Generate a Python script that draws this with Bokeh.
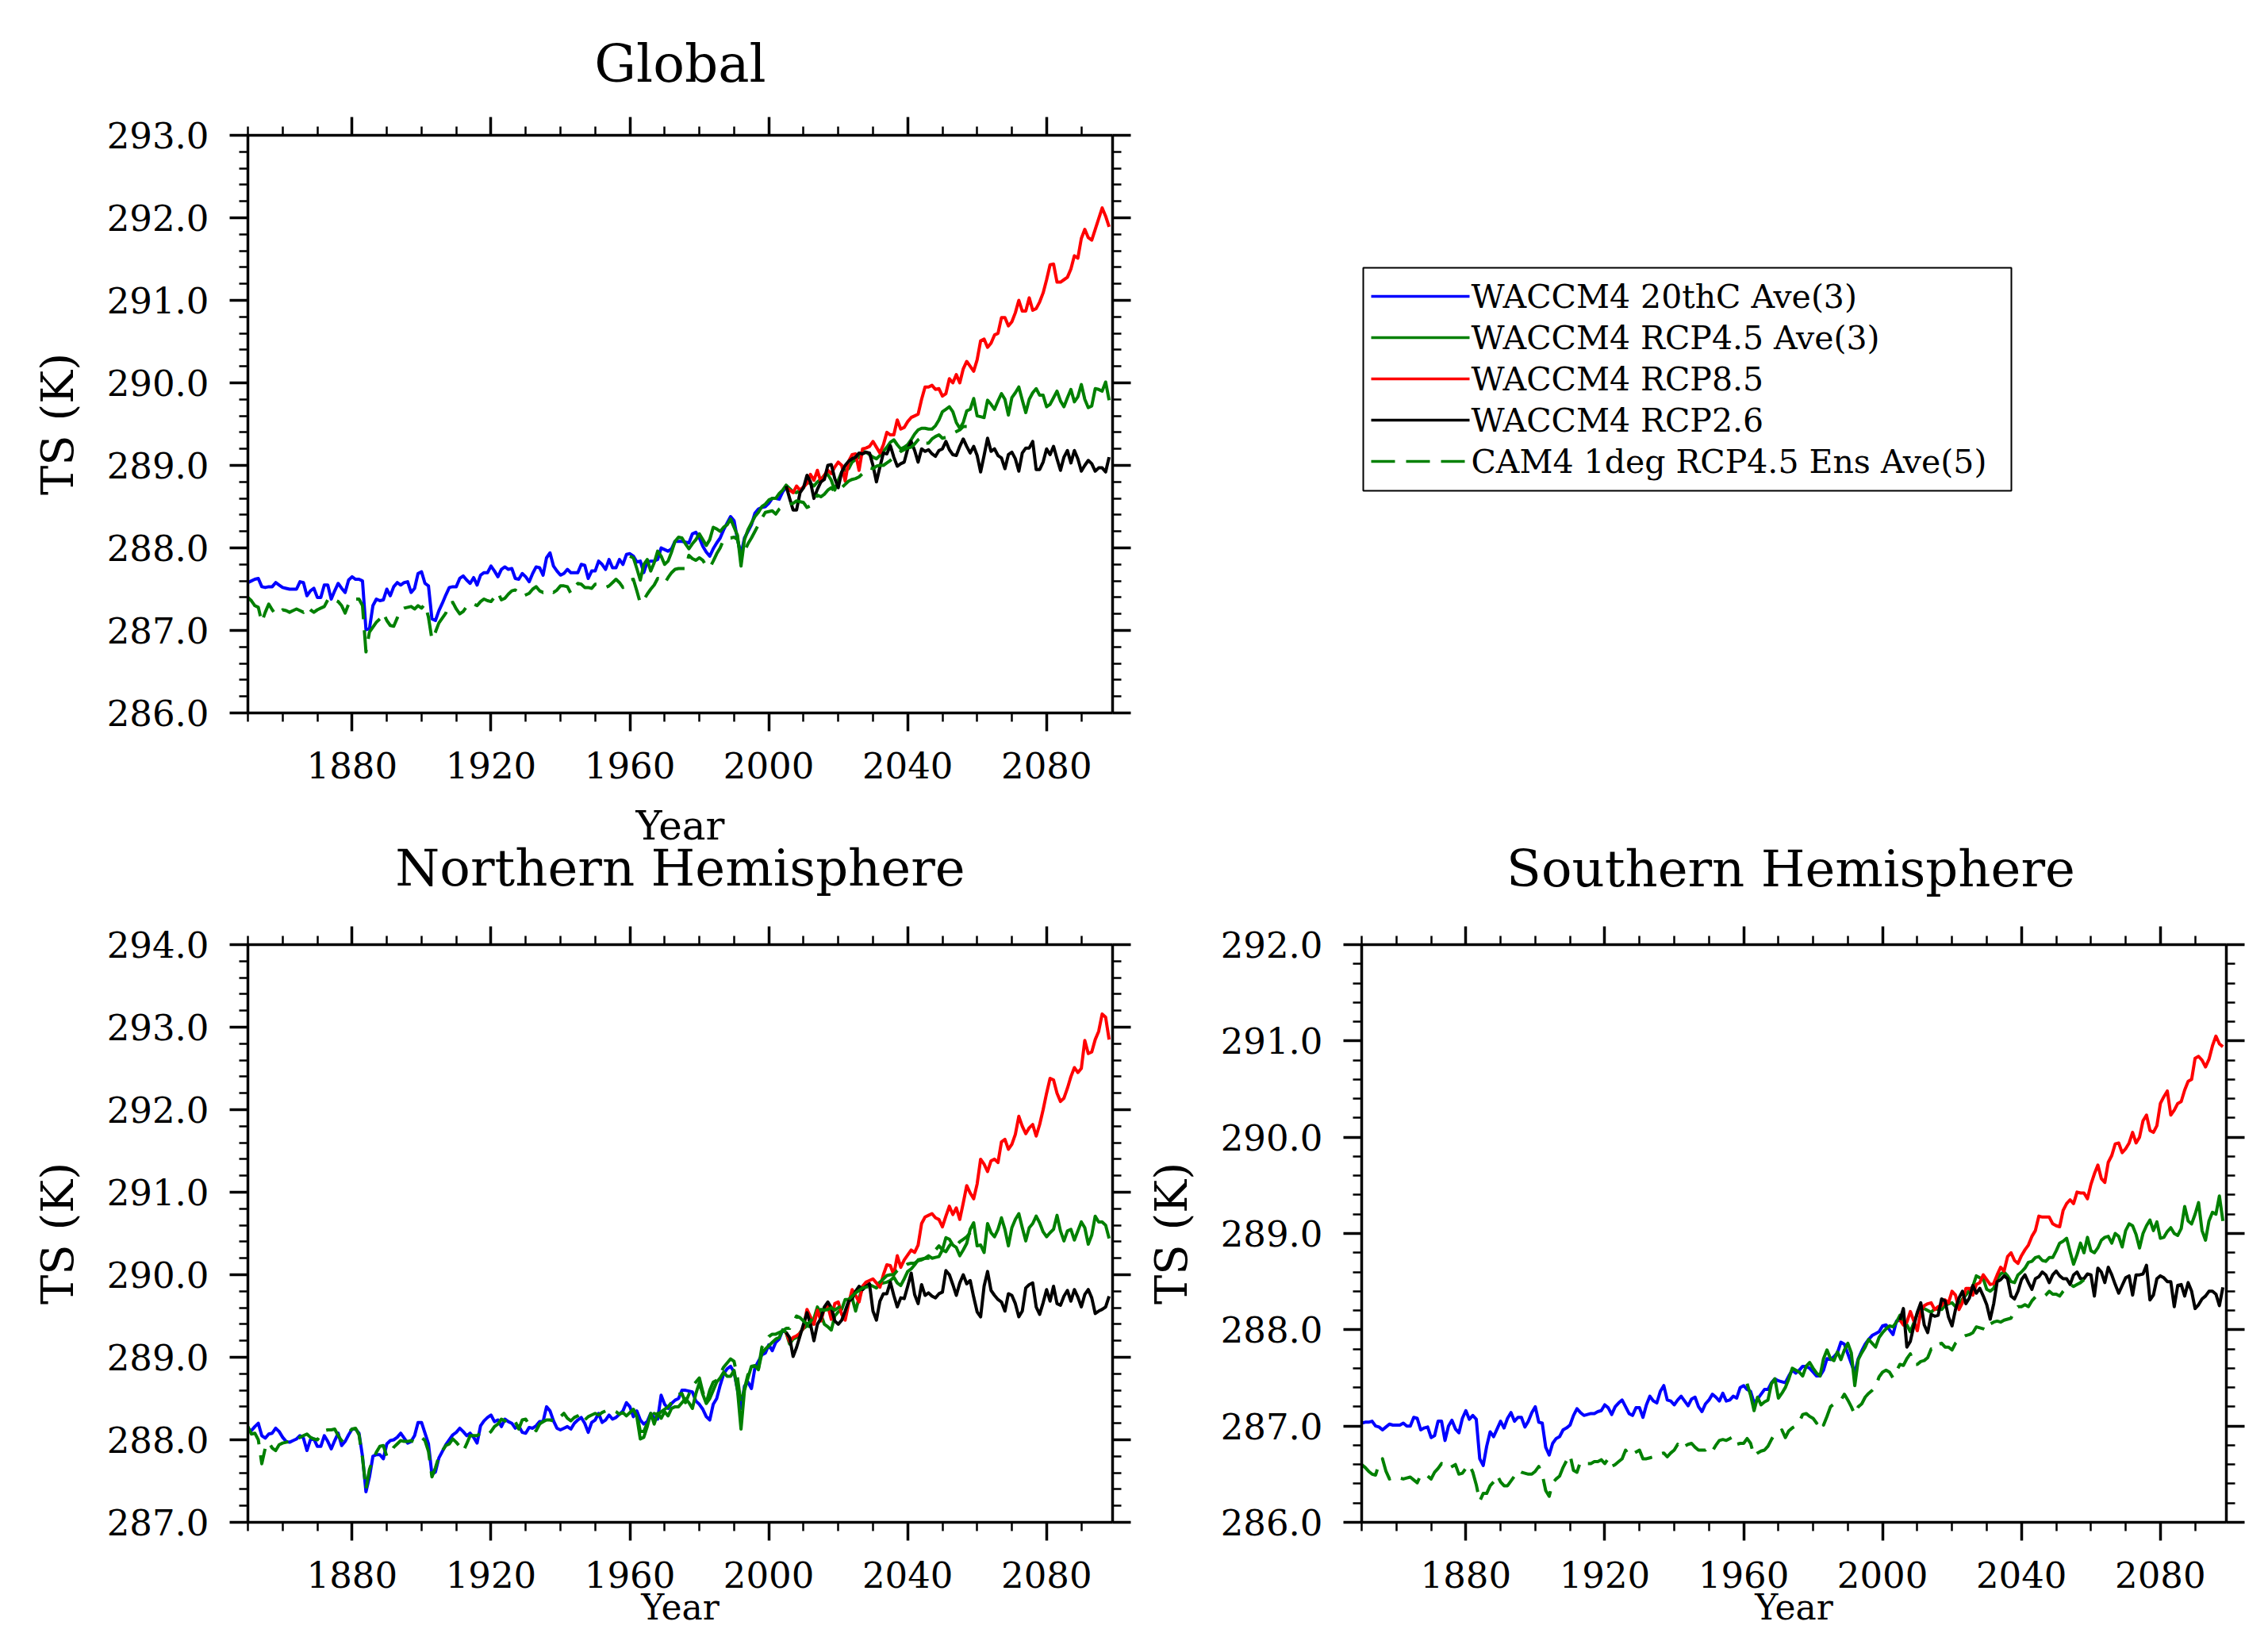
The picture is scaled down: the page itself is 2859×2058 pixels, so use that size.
from bokeh.plotting import figure
from bokeh.layouts import column, row
from bokeh.models import (Range1d, LinearAxis, SingleIntervalTicker,
                          NumeralTickFormatter, Title)
from bokeh.core.properties import value
from bokeh.embed import file_html
from bokeh.resources import INLINE

FONT = "DejaVu Serif"
BLUE, GREEN, RED, BLACK = "#0000ff", "#008000", "#ff0000", "#000000"
X_START, X_END = 1850, 2099
TITLES = ["Global", "Northern Hemisphere", "Southern Hemisphere"]
LEGEND_LABELS = ["WACCM4 20thC Ave(3)", "WACCM4 RCP4.5 Ave(3)", "WACCM4 RCP8.5",
                 "WACCM4 RCP2.6", "CAM4 1deg RCP4.5 Ens Ave(5)"]
LEGEND_COLORS = [BLUE, GREEN, RED, BLACK, GREEN]
LEGEND_DASHES = ["solid", "solid", "solid", "solid", "30 14"]

# start years of each series
START_20C, START_RCP45_G, START_RCP45_HEM, START_SCEN, START_CAM = 1850, 1960, 1961, 2005, 1850

# ---------------- Global ----------------
glob_20c = [287.58, 287.60, 287.62, 287.63, 287.53, 287.52, 287.53, 287.53, 287.58, 287.55,
            287.52, 287.51, 287.50, 287.50, 287.50, 287.59, 287.58, 287.42, 287.48, 287.51,
            287.40, 287.40, 287.55, 287.55, 287.38, 287.48, 287.57, 287.51, 287.46, 287.61,
            287.65, 287.62, 287.62, 287.60, 287.01, 287.02, 287.30, 287.38, 287.36, 287.37,
            287.50, 287.42, 287.53, 287.58, 287.55, 287.58, 287.59, 287.46, 287.51, 287.69,
            287.71, 287.57, 287.54, 287.14, 287.12, 287.24, 287.33, 287.43, 287.52, 287.53,
            287.53, 287.63, 287.66, 287.61, 287.57, 287.64, 287.55, 287.67, 287.70, 287.70,
            287.78, 287.72, 287.65, 287.74, 287.77, 287.74, 287.75, 287.63, 287.62, 287.69,
            287.65, 287.59, 287.69, 287.77, 287.76, 287.67, 287.88, 287.94, 287.78, 287.72,
            287.67, 287.69, 287.74, 287.70, 287.70, 287.70, 287.80, 287.79, 287.63, 287.72,
            287.72, 287.84, 287.80, 287.74, 287.86, 287.76, 287.76, 287.86, 287.80, 287.92,
            287.93, 287.90, 287.83, 287.84, 287.70, 287.83, 287.84, 287.84, 287.86, 288.00,
            287.98, 287.96, 287.99, 288.08, 288.08, 288.08, 288.07, 288.06, 288.17, 288.19,
            288.12, 288.02, 287.95, 287.90, 287.99, 288.06, 288.12, 288.22, 288.30, 288.38,
            288.33, 288.10, 287.92, 288.12, 288.20, 288.28, 288.42, 288.47, 288.49, 288.50,
            288.54, 288.60, 288.60, 288.59, 288.68, 288.73]
glob_rcp45 = [287.90, 287.88, 287.75, 287.61, 287.80, 287.86, 287.72, 287.82, 287.96, 287.90,
              287.80, 287.84, 287.95, 288.08, 288.13, 288.12, 288.05, 287.99, 288.05, 288.10,
              288.17, 288.10, 288.03, 288.10, 288.25, 288.23, 288.20, 288.25, 288.28, 288.35,
              288.25, 288.15, 287.78, 288.10, 288.22, 288.30, 288.38, 288.43, 288.50, 288.53,
              288.58, 288.60, 288.60, 288.66, 288.70, 288.76, 288.72, 288.68, 288.67, 288.70,
              288.73, 288.80, 288.78, 288.75, 288.80, 288.83, 288.88, 288.89, 288.82, 288.70,
              288.82, 288.92, 288.94, 288.96, 289.04, 289.07, 289.10, 289.17, 289.16, 289.13,
              289.10, 289.08, 289.12, 289.17, 289.22, 289.28, 289.31, 289.25, 289.20, 289.22,
              289.25, 289.31, 289.38, 289.43, 289.45, 289.45, 289.44, 289.44, 289.48, 289.55,
              289.65, 289.68, 289.71, 289.65, 289.52, 289.45, 289.52, 289.66, 289.68, 289.81,
              289.60, 289.59, 289.58, 289.79, 289.74, 289.68, 289.78, 289.87, 289.80, 289.61,
              289.82, 289.88, 289.95, 289.79, 289.64, 289.80, 289.88, 289.93, 289.85, 289.85,
              289.71, 289.74, 289.82, 289.90, 289.78, 289.71, 289.82, 289.92, 289.77, 289.83,
              289.98, 289.80, 289.70, 289.72, 289.93, 289.92, 289.90, 290.01, 289.79]
glob_rcp85 = [288.73, 288.70, 288.67, 288.75, 288.70, 288.74, 288.78, 288.89, 288.82, 288.94,
              288.80, 288.88, 288.94, 288.90, 288.98, 289.04, 289.00, 288.81, 289.05, 289.13,
              289.14, 288.94, 289.20, 289.21, 289.23, 289.29, 289.22, 289.15, 289.25, 289.40,
              289.37, 289.37, 289.55, 289.44, 289.46, 289.53, 289.58, 289.60, 289.62, 289.80,
              289.95, 289.95, 289.97, 289.92, 289.93, 289.84, 289.87, 290.05, 290.00, 290.10,
              290.00, 290.17, 290.26, 290.20, 290.14, 290.28, 290.51, 290.53, 290.43, 290.48,
              290.58, 290.60, 290.79, 290.79, 290.69, 290.74, 290.85, 291.00, 290.87, 290.87,
              291.03, 290.88, 290.90, 290.98, 291.09, 291.25, 291.43, 291.44, 291.22, 291.22,
              291.25, 291.28, 291.38, 291.54, 291.51, 291.75, 291.86, 291.76, 291.73, 291.86,
              291.99, 292.12, 292.02, 291.89]
glob_rcp26 = [288.75, 288.60, 288.46, 288.46, 288.67, 288.73, 288.88, 288.80, 288.60, 288.71,
              288.80, 288.83, 289.00, 289.01, 288.84, 288.73, 288.92, 289.00, 289.05, 289.08,
              289.10, 289.15, 289.14, 289.16, 289.15, 289.00, 288.80, 288.98, 289.15, 289.14,
              289.24, 289.10, 288.99, 289.02, 289.04, 289.20, 289.29, 289.18, 289.04, 289.20,
              289.17, 289.19, 289.14, 289.11, 289.18, 289.20, 289.29, 289.19, 289.13, 289.12,
              289.23, 289.32, 289.23, 289.15, 289.23, 289.12, 288.92, 289.12, 289.33, 289.17,
              289.20, 289.12, 289.09, 288.96, 289.13, 289.16, 289.08, 288.93, 289.15, 289.21,
              289.21, 289.29, 288.95, 288.95, 289.04, 289.20, 289.13, 289.23, 289.08, 288.94,
              289.10, 289.18, 289.03, 289.18, 289.08, 288.93, 289.00, 289.06, 289.02, 288.93,
              288.97, 288.97, 288.92, 289.10]
glob_cam4 = [287.40, 287.36, 287.30, 287.28, 287.10, 287.22, 287.32, 287.25, 287.19, 287.22,
             287.25, 287.24, 287.22, 287.24, 287.26, 287.24, 287.22, 287.29, 287.25, 287.22,
             287.25, 287.27, 287.29, 287.37, 287.34, 287.37, 287.35, 287.30, 287.21, 287.32,
             287.38, 287.38, 287.38, 287.30, 286.74, 286.98, 287.04, 287.10, 287.14, 287.21,
             287.12, 287.06, 287.05, 287.15, 287.25, 287.27, 287.28, 287.29, 287.26, 287.30,
             287.27, 287.32, 287.16, 286.89, 286.98, 287.09, 287.15, 287.21, 287.33, 287.34,
             287.26, 287.20, 287.23, 287.29, 287.33, 287.32, 287.30, 287.35, 287.38, 287.36,
             287.35, 287.40, 287.46, 287.37, 287.39, 287.44, 287.48, 287.49, 287.46, 287.41,
             287.43, 287.45, 287.50, 287.53, 287.48, 287.46, 287.47, 287.49, 287.46, 287.49,
             287.54, 287.54, 287.53, 287.45, 287.52, 287.57, 287.56, 287.52, 287.52, 287.51,
             287.56, 287.56, 287.53, 287.52, 287.54, 287.58, 287.62, 287.58, 287.52, 287.58,
             287.61, 287.62, 287.48, 287.33, 287.37, 287.44, 287.50, 287.55, 287.63, 287.62,
             287.57, 287.64, 287.70, 287.74, 287.75, 287.75, 287.75, 287.91, 287.87, 287.85,
             287.88, 287.85, 287.78, 287.76, 287.84, 287.93, 288.00, 288.10, 288.12, 288.12,
             288.13, 288.10, 287.90, 287.96, 288.05, 288.12, 288.20, 288.28, 288.36, 288.43,
             288.44, 288.45, 288.41, 288.47, 288.50, 288.52, 288.53, 288.54, 288.57, 288.56,
             288.55, 288.49, 288.51, 288.58, 288.64, 288.62, 288.65, 288.70, 288.73, 288.68,
             288.70, 288.73, 288.77, 288.81, 288.83, 288.84, 288.86, 288.90, 288.95, 288.97,
             288.96, 288.99, 289.00, 289.00, 289.03, 289.06, 289.10, 289.13, 289.17, 289.19,
             289.21, 289.22, 289.26, 289.31, 289.34, 289.27, 289.27, 289.32, 289.35, 289.37,
             289.33, 289.34, 289.37, 289.39, 289.41, 289.43, 289.47, 289.47]

# ---------------- Northern Hemisphere ----------------
nh_20c = [288.12, 288.11, 288.16, 288.20, 288.05, 288.02, 288.07, 288.08, 288.14, 288.10,
          288.03, 287.98, 287.97, 287.99, 288.01, 288.05, 288.02, 287.87, 288.00, 288.01,
          287.92, 287.92, 288.05, 287.98, 287.89, 287.99, 288.08, 287.93, 287.98, 288.06,
          288.13, 288.13, 288.08, 287.80, 287.37, 287.55, 287.80, 287.82, 287.82, 287.77,
          287.95, 287.99, 288.00, 288.03, 288.08, 288.02, 287.96, 287.98, 288.05, 288.21,
          288.21, 288.08, 287.95, 287.58, 287.61, 287.78, 287.86, 287.94, 288.00, 288.06,
          288.09, 288.14, 288.10, 288.05, 288.08, 288.03, 287.96, 288.17, 288.23, 288.27,
          288.30, 288.22, 288.24, 288.16, 288.25, 288.22, 288.20, 288.14, 288.17, 288.09,
          288.08, 288.15, 288.14, 288.17, 288.22, 288.22, 288.40, 288.35, 288.23, 288.14,
          288.12, 288.14, 288.16, 288.13, 288.20, 288.24, 288.27, 288.20, 288.09, 288.21,
          288.24, 288.32, 288.21, 288.24, 288.30, 288.25, 288.27, 288.31, 288.35, 288.45,
          288.40, 288.28, 288.35, 288.24, 288.19, 288.22, 288.32, 288.27, 288.25, 288.54,
          288.43, 288.38, 288.44, 288.48, 288.50, 288.60, 288.60, 288.59, 288.58, 288.47,
          288.43, 288.37, 288.28, 288.24, 288.43, 288.50, 288.66, 288.80, 288.86, 288.89,
          288.82, 288.60, 288.38, 288.65, 288.70, 288.62, 288.87, 288.95, 289.03, 289.05,
          289.15, 289.08, 289.18, 289.22, 289.33, 289.30]
nh_rcp45 = [288.37, 288.28, 288.01, 288.03, 288.16, 288.32, 288.19, 288.32, 288.26, 288.34,
            288.29, 288.38, 288.40, 288.40, 288.45, 288.50, 288.45, 288.38, 288.56, 288.69,
            288.55, 288.44, 288.50, 288.60, 288.70, 288.75, 288.82, 288.77, 288.77, 288.84,
            288.60, 288.13, 288.60, 288.75, 288.89, 288.90, 288.85, 289.05, 289.10, 289.14,
            289.18, 289.22, 289.24, 289.33, 289.30, 289.16, 289.22, 289.24, 289.30, 289.35,
            289.38, 289.37, 289.47, 289.61, 289.52, 289.40, 289.37, 289.33, 289.50, 289.55,
            289.58, 289.70, 289.70, 289.72, 289.56, 289.72, 289.84, 289.86, 289.88, 289.86,
            289.84, 289.89, 289.90, 289.91, 289.93, 289.97, 289.90, 289.87, 289.95, 290.04,
            290.07, 290.12, 290.18, 290.19, 290.20, 290.23, 290.20, 290.21, 290.22, 290.30,
            290.45, 290.43, 290.36, 290.33, 290.23, 290.30, 290.38, 290.55, 290.63, 290.35,
            290.36, 290.27, 290.62, 290.51, 290.46, 290.55, 290.69, 290.55, 290.35, 290.57,
            290.67, 290.74, 290.57, 290.41, 290.57, 290.62, 290.71, 290.63, 290.52, 290.46,
            290.51, 290.55, 290.72, 290.53, 290.41, 290.53, 290.55, 290.42, 290.53, 290.64,
            290.57, 290.37, 290.48, 290.71, 290.64, 290.64, 290.60, 290.44]
nh_rcp85 = [289.30, 289.19, 289.24, 289.26, 289.29, 289.36, 289.58, 289.49, 289.40, 289.57,
            289.44, 289.59, 289.62, 289.46, 289.65, 289.67, 289.52, 289.45, 289.65, 289.82,
            289.75, 289.67, 289.86, 289.91, 289.93, 289.95, 289.90, 289.85, 290.00, 290.12,
            290.11, 290.00, 290.23, 290.09, 290.18, 290.24, 290.30, 290.27, 290.36, 290.62,
            290.70, 290.72, 290.74, 290.69, 290.67, 290.58, 290.71, 290.83, 290.73, 290.81,
            290.67, 290.87, 291.08, 290.99, 290.92, 291.10, 291.40, 291.34, 291.25, 291.38,
            291.40, 291.36, 291.61, 291.64, 291.52, 291.58, 291.70, 291.92, 291.80, 291.71,
            291.78, 291.82, 291.68, 291.82, 292.00, 292.20, 292.38, 292.36, 292.20, 292.10,
            292.14, 292.26, 292.40, 292.51, 292.45, 292.50, 292.84, 292.68, 292.70, 292.85,
            292.95, 293.16, 293.12, 292.85]
nh_rcp26 = [289.30, 289.24, 289.01, 289.12, 289.26, 289.40, 289.54, 289.40, 289.20, 289.40,
            289.47, 289.61, 289.67, 289.60, 289.44, 289.40, 289.45, 289.56, 289.68, 289.71,
            289.80, 289.86, 289.82, 289.86, 289.89, 289.56, 289.45, 289.68, 289.77, 289.77,
            289.91, 289.75, 289.61, 289.72, 289.71, 289.86, 290.02, 289.76, 289.65, 289.88,
            289.75, 289.78, 289.74, 289.72, 289.77, 289.79, 290.05, 290.00, 289.88, 289.75,
            289.90, 290.00, 289.89, 289.93, 289.73, 289.55, 289.49, 289.86, 290.04, 289.81,
            289.75, 289.70, 289.67, 289.56, 289.77, 289.75, 289.65, 289.49, 289.56, 289.84,
            289.88, 289.90, 289.61, 289.52, 289.66, 289.82, 289.68, 289.86, 289.65, 289.63,
            289.74, 289.81, 289.68, 289.82, 289.73, 289.61, 289.76, 289.82, 289.72, 289.53,
            289.56, 289.58, 289.61, 289.74]
nh_cam4 = [288.16, 288.07, 288.08, 288.00, 287.71, 287.90, 287.97, 287.90, 287.87, 287.94,
           287.96, 287.97, 287.98, 287.99, 288.00, 288.03, 288.05, 288.07, 288.03, 288.01,
           288.00, 288.06, 288.11, 288.12, 288.12, 288.13, 288.05, 287.99, 288.04, 288.09,
           288.13, 288.14, 288.06, 287.78, 287.40, 287.64, 287.76, 287.85, 287.92, 287.93,
           287.80, 287.84, 287.91, 287.95, 287.99, 287.98, 287.98, 287.99, 287.97, 288.00,
           288.03, 287.99, 287.86, 287.55, 287.66, 287.80, 287.87, 287.93, 287.95, 288.01,
           287.97, 287.92, 287.86, 287.95, 288.05, 288.05, 288.05, 288.08, 288.07, 288.06,
           288.10, 288.16, 288.19, 288.25, 288.23, 288.20, 288.19, 288.22, 288.13, 288.24,
           288.25, 288.18, 288.15, 288.11, 288.19, 288.22, 288.24, 288.24, 288.23, 288.22,
           288.28, 288.32, 288.26, 288.23, 288.27, 288.29, 288.32, 288.24, 288.28, 288.30,
           288.32, 288.30, 288.33, 288.35, 288.34, 288.36, 288.34, 288.31, 288.33, 288.29,
           288.33, 288.37, 288.32, 288.10, 288.10, 288.20, 288.26, 288.32, 288.30, 288.34,
           288.37, 288.40, 288.45, 288.49, 288.55, 288.56, 288.45, 288.55, 288.65, 288.70,
           288.75, 288.58, 288.45, 288.60, 288.70, 288.72, 288.80, 288.88, 288.93, 288.98,
           288.95, 288.75, 288.43, 288.62, 288.79, 288.84, 288.86, 288.86, 289.12, 289.18,
           289.25, 289.28, 289.28, 289.30, 289.32, 289.35, 289.35, 289.42, 289.50, 289.48,
           289.44, 289.40, 289.43, 289.50, 289.55, 289.58, 289.57, 289.58, 289.60, 289.57,
           289.60, 289.62, 289.65, 289.70, 289.74, 289.78, 289.81, 289.84, 289.85, 289.86,
           289.86, 289.88, 289.91, 289.95, 289.99, 290.00, 290.00, 290.05, 290.07, 290.10,
           290.13, 290.14, 290.14, 290.17, 290.18, 290.20, 290.20, 290.25, 290.30, 290.35,
           290.30, 290.28, 290.35, 290.40, 290.35, 290.40, 290.43, 290.46, 290.51]

# ---------------- Southern Hemisphere ----------------
sh_20c = [287.03, 287.04, 287.04, 287.05, 287.00, 286.99, 286.96, 286.99, 287.02, 287.01,
          287.01, 287.01, 287.03, 287.00, 287.00, 287.09, 287.08, 286.96, 286.98, 286.99,
          286.88, 286.90, 287.05, 287.05, 286.85, 287.00, 287.06, 286.97, 286.93, 287.08,
          287.16, 287.07, 287.11, 287.07, 286.66, 286.59, 286.79, 286.94, 286.89, 286.97,
          287.05, 286.98, 287.08, 287.14, 287.05, 287.09, 287.09, 286.99, 287.05, 287.14,
          287.20, 287.04, 287.03, 286.78, 286.70, 286.82, 286.87, 286.89, 286.96, 286.98,
          287.01, 287.11, 287.18, 287.14, 287.11, 287.12, 287.13, 287.13, 287.15, 287.16,
          287.22, 287.19, 287.12, 287.20, 287.24, 287.27, 287.20, 287.13, 287.11, 287.19,
          287.19, 287.09, 287.22, 287.31, 287.26, 287.24, 287.36, 287.42, 287.27, 287.26,
          287.22, 287.27, 287.31, 287.26, 287.21, 287.28, 287.30, 287.20, 287.15, 287.23,
          287.27, 287.33, 287.30, 287.26, 287.34, 287.26, 287.27, 287.31, 287.29, 287.40,
          287.42, 287.38, 287.36, 287.24, 287.28, 287.33, 287.38, 287.38, 287.45, 287.49,
          287.47, 287.46, 287.45, 287.52, 287.58, 287.55, 287.58, 287.62, 287.62, 287.60,
          287.56, 287.52, 287.52, 287.58, 287.70, 287.69, 287.72, 287.76, 287.87, 287.85,
          287.75, 287.65, 287.55, 287.70, 287.78, 287.85, 287.90, 287.94, 287.96, 287.98,
          288.04, 288.05, 288.00, 287.95, 288.09, 288.10]
sh_rcp45 = [287.44, 287.32, 287.16, 287.30, 287.22, 287.25, 287.27, 287.44, 287.49, 287.29,
            287.34, 287.40, 287.49, 287.60, 287.58, 287.56, 287.52, 287.62, 287.66, 287.60,
            287.55, 287.52, 287.70, 287.79, 287.70, 287.68, 287.77, 287.69, 287.79, 287.86,
            287.76, 287.42, 287.69, 287.76, 287.82, 287.90, 287.86, 287.82, 287.92, 287.97,
            288.01, 288.04, 288.03, 288.08, 288.15, 288.10, 288.05, 287.98, 288.07, 288.17,
            288.23, 288.22, 288.20, 288.18, 288.22, 288.21, 288.21, 288.25, 288.27, 288.28,
            288.24, 288.25, 288.32, 288.36, 288.41, 288.45, 288.56, 288.54, 288.53, 288.42,
            288.40, 288.43, 288.53, 288.58, 288.60, 288.56, 288.50, 288.49, 288.57, 288.60,
            288.64, 288.70, 288.71, 288.75, 288.76, 288.72, 288.71, 288.75, 288.75, 288.82,
            288.90, 288.92, 288.95, 288.81, 288.68, 288.78, 288.90, 288.80, 288.96, 288.82,
            288.80, 288.85, 288.93, 288.96, 288.97, 288.90, 289.00, 288.97, 288.86, 289.03,
            289.10, 289.08, 288.99, 288.85, 289.00, 289.08, 289.14, 289.03, 289.12, 288.95,
            288.96, 289.02, 289.06, 289.00, 288.98, 289.05, 289.28, 289.13, 289.10, 289.20,
            289.32, 289.03, 288.93, 289.13, 289.22, 289.20, 289.39, 289.13]
sh_rcp85 = [288.10, 288.05, 288.08, 288.19, 288.09, 287.99, 288.19, 288.25, 288.27, 288.28,
            288.21, 288.24, 288.25, 288.31, 288.28, 288.40, 288.36, 288.21, 288.28, 288.43,
            288.43, 288.36, 288.47, 288.49, 288.57, 288.52, 288.47, 288.48, 288.57, 288.65,
            288.61, 288.76, 288.80, 288.72, 288.69, 288.77, 288.83, 288.88, 288.97, 289.03,
            289.18, 289.17, 289.17, 289.17, 289.10, 289.08, 289.07, 289.24, 289.31, 289.35,
            289.31, 289.43, 289.42, 289.42, 289.36, 289.51, 289.62, 289.71, 289.57, 289.53,
            289.74, 289.81, 289.93, 289.94, 289.84, 289.88, 289.94, 290.05, 289.94, 290.00,
            290.17, 290.23, 290.07, 290.05, 290.12, 290.35, 290.42, 290.48, 290.23, 290.28,
            290.35, 290.37, 290.49, 290.58, 290.60, 290.82, 290.84, 290.80, 290.73, 290.81,
            290.95, 291.05, 290.97, 290.94]
sh_rcp26 = [288.10, 288.22, 287.82, 287.88, 288.04, 288.18, 288.28, 288.05, 287.97, 288.16,
            288.14, 288.15, 288.32, 288.30, 288.13, 288.04, 288.21, 288.33, 288.40, 288.27,
            288.33, 288.46, 288.38, 288.43, 288.35, 288.26, 288.11, 288.27, 288.50, 288.52,
            288.56, 288.53, 288.35, 288.32, 288.40, 288.52, 288.57, 288.49, 288.42, 288.53,
            288.55, 288.60, 288.57, 288.49, 288.57, 288.61, 288.56, 288.53, 288.53, 288.47,
            288.57, 288.60, 288.53, 288.53, 288.58, 288.57, 288.35, 288.64, 288.60, 288.49,
            288.65, 288.57, 288.47, 288.38, 288.46, 288.54, 288.56, 288.36, 288.57, 288.57,
            288.58, 288.67, 288.31, 288.36, 288.53, 288.56, 288.54, 288.50, 288.50, 288.24,
            288.46, 288.47, 288.35, 288.49, 288.40, 288.22, 288.26, 288.32, 288.35, 288.40,
            288.40, 288.37, 288.25, 288.44]
sh_cam4 = [286.60, 286.57, 286.53, 286.50, 286.49, 286.61, 286.66, 286.53, 286.45, 286.46,
           286.48, 286.46, 286.45, 286.46, 286.47, 286.44, 286.41, 286.49, 286.50, 286.48,
           286.45, 286.52, 286.56, 286.61, 286.57, 286.56, 286.58, 286.60, 286.50, 286.51,
           286.56, 286.60, 286.52, 286.39, 286.22, 286.30, 286.30, 286.38, 286.42, 286.49,
           286.42, 286.38, 286.38, 286.43, 286.48, 286.54, 286.52, 286.51, 286.50, 286.50,
           286.53, 286.58, 286.50, 286.33, 286.27, 286.41, 286.45, 286.48, 286.57, 286.64,
           286.70, 286.54, 286.52, 286.63, 286.61, 286.61, 286.61, 286.63, 286.63, 286.65,
           286.61, 286.66, 286.58, 286.60, 286.63, 286.66, 286.75, 286.69, 286.71, 286.73,
           286.75, 286.66, 286.66, 286.67, 286.68, 286.71, 286.71, 286.72, 286.68, 286.72,
           286.75, 286.81, 286.76, 286.79, 286.81, 286.82, 286.78, 286.75, 286.75, 286.75,
           286.78, 286.74, 286.80, 286.85, 286.86, 286.85, 286.87, 286.89, 286.81, 286.82,
           286.82, 286.87, 286.82, 286.69, 286.72, 286.74, 286.75, 286.79, 286.86, 286.92,
           286.93, 286.96, 286.88, 286.95, 286.98, 287.00, 287.04, 287.12, 287.13, 287.10,
           287.08, 287.03, 287.08, 287.01, 287.10, 287.20, 287.23, 287.25, 287.27, 287.33,
           287.27, 287.20, 287.12, 287.20, 287.23, 287.30, 287.34, 287.37, 287.41, 287.51,
           287.56, 287.58, 287.56, 287.50, 287.57, 287.64, 287.63, 287.70, 287.75, 287.64,
           287.64, 287.67, 287.68, 287.71, 287.80, 287.79, 287.85, 287.86, 287.82, 287.82,
           287.79, 287.86, 287.90, 287.92, 287.94, 287.95, 287.97, 288.03, 288.02, 288.01,
           287.99, 288.06, 288.08, 288.09, 288.08, 288.10, 288.11, 288.12, 288.20, 288.24,
           288.24, 288.26, 288.24, 288.30, 288.34, 288.33, 288.33, 288.36, 288.40, 288.37,
           288.37, 288.35, 288.40, 288.44, 288.47, 288.45, 288.47, 288.49, 288.52]

Y_RANGES = [(286.0, 293.0), (287.0, 294.0), (286.0, 292.0)]

PAGE_W, PAGE_H = 2859, 2058
LEFT_W = 1440             # width of the left column figures
RIGHT_W = PAGE_W - LEFT_W
FRAME_W, FRAME_H = 1090, 728
TOP_FRAME_TOP = 170       # page y of the upper frame's top edge
BOT_FRAME_TOP = 1190      # page y of the lower frames' top edge
ROW_SPLIT = 1160          # page y where the lower row of figures starts
TOP_BOTTOM_BORDER = ROW_SPLIT - TOP_FRAME_TOP - FRAME_H
BOT_TOP_BORDER = BOT_FRAME_TOP - ROW_SPLIT
BOT_BOTTOM_BORDER = PAGE_H - BOT_FRAME_TOP - FRAME_H
SH_LEFT = 1712 - LEFT_W
SUB_TITLE_SIZE = "64px"
SH_TITLE_LIFT = 56           # baseline height of the lower-right heading above the legend figure's bottom
LEG_BOTTOM_PAD = 10          # the legend figure's drawing area reaches down to just above row 2


def years(start, vals):
    return list(range(start, start + len(vals)))


def style_axis(ax, labels=True):
    ax.axis_line_width = 3.5
    ax.axis_line_color = "black"
    ax.major_tick_line_width = 3.5
    ax.minor_tick_line_width = 2.5
    ax.major_tick_out = 23
    ax.major_tick_in = 0
    ax.minor_tick_out = 11
    ax.minor_tick_in = 0
    ax.major_label_text_font = FONT
    ax.major_label_text_color = "black"
    if labels:
        ax.major_label_text_font_size = "45px"
        ax.major_label_standoff = 26
    else:
        ax.major_label_text_font_size = "0px"
        ax.major_label_standoff = 0


def make_title(text, size, standoff):
    return Title(text=text, align="center", text_font=FONT, text_font_size=size,
                 text_font_style="normal", text_color="black", standoff=standoff)


def make_panel(yr, series, left, right, top, bottom, year_size, year_standoff):
    p = figure(frame_width=FRAME_W, frame_height=FRAME_H, title=None,
               x_range=Range1d(X_START, X_END), y_range=Range1d(*yr),
               x_axis_type=None, y_axis_type=None,
               min_border_left=left, min_border_right=right,
               min_border_top=top, min_border_bottom=bottom,
               output_backend="svg", toolbar_location=None)
    p.outline_line_color = None
    p.background_fill_color = "white"
    p.border_fill_color = "white"

    for loc, lab in (("below", True), ("above", False)):
        ax = LinearAxis(ticker=SingleIntervalTicker(interval=40, num_minor_ticks=4))
        style_axis(ax, lab)
        if lab:
            ax.axis_label = "Year"
            ax.axis_label_text_font = FONT
            ax.axis_label_text_font_size = year_size
            ax.axis_label_text_font_style = "normal"
            ax.axis_label_text_color = "black"
            ax.axis_label_standoff = year_standoff
        p.add_layout(ax, loc)
    for loc, lab in (("left", True), ("right", False)):
        ax = LinearAxis(ticker=SingleIntervalTicker(interval=1, num_minor_ticks=5),
                        formatter=NumeralTickFormatter(format="0.0"))
        style_axis(ax, lab)
        if lab:
            ax.axis_label = "TS (K)"
            ax.axis_label_text_font = FONT
            ax.axis_label_text_font_size = "56px"
            ax.axis_label_text_font_style = "normal"
            ax.axis_label_text_color = "black"
            ax.axis_label_standoff = 27
        p.add_layout(ax, loc)

    c20, c45, s45, c85, c26, ccam = series
    kw = dict(line_width=4, line_join="round")
    p.line(years(START_20C, c20), c20, line_color=BLUE, **kw)
    p.line(years(s45, c45), c45, line_color=GREEN, **kw)
    p.line(years(START_SCEN, c85), c85, line_color=RED, **kw)
    p.line(years(START_SCEN, c26), c26, line_color=BLACK, **kw)
    p.line(years(START_CAM, ccam), ccam, line_color=GREEN, line_dash="30 14", **kw)
    return p


# upper-left: Global (also carries the "Northern Hemisphere" heading below it)
p_glob = make_panel(Y_RANGES[0],
                    (glob_20c, glob_rcp45, START_RCP45_G, glob_rcp85, glob_rcp26, glob_cam4),
                    312, LEFT_W - 312 - FRAME_W, TOP_FRAME_TOP, TOP_BOTTOM_BORDER, "50px", 28)
p_glob.add_layout(make_title(TITLES[0], "66px", 58), "above")
p_glob.add_layout(make_title(TITLES[1], SUB_TITLE_SIZE, -36), "below")

p_nh = make_panel(Y_RANGES[1],
                  (nh_20c, nh_rcp45, START_RCP45_HEM, nh_rcp85, nh_rcp26, nh_cam4),
                  312, LEFT_W - 312 - FRAME_W, BOT_TOP_BORDER, BOT_BOTTOM_BORDER, "44px", -4)
p_sh = make_panel(Y_RANGES[2],
                  (sh_20c, sh_rcp45, START_RCP45_HEM, sh_rcp85, sh_rcp26, sh_cam4),
                  SH_LEFT, RIGHT_W - SH_LEFT - FRAME_W, BOT_TOP_BORDER, BOT_BOTTOM_BORDER,
                  "44px", -4)

# ---------------- upper-right: legend + lower-right heading (pixel-mapped coordinates) ----------------
leg_frame_h = ROW_SPLIT - TOP_FRAME_TOP - LEG_BOTTOM_PAD
leg_bottom = TOP_FRAME_TOP + leg_frame_h          # page y of this figure's frame bottom
p_leg = figure(frame_width=RIGHT_W, frame_height=leg_frame_h, title=None,
               x_range=Range1d(0, RIGHT_W), y_range=Range1d(0, leg_frame_h),
               x_axis_type=None, y_axis_type=None,
               min_border_left=0, min_border_right=0,
               min_border_top=TOP_FRAME_TOP, min_border_bottom=LEG_BOTTOM_PAD,
               output_backend="svg", toolbar_location=None)
p_leg.outline_line_color = None
p_leg.background_fill_color = "white"
p_leg.border_fill_color = "white"

box_l, box_r = 1718 - LEFT_W, 2535 - LEFT_W
box_t, box_b = leg_bottom - 337, leg_bottom - 618
p_leg.quad(left=[box_l], right=[box_r], bottom=[box_b], top=[box_t],
           fill_color="white", line_color="black", line_width=2)
row0, row_step = leg_bottom - 373, 52
line_x0, line_x1 = box_l + 10, box_l + 134
row_y = [row0 - i * row_step for i in range(len(LEGEND_LABELS))]
for yy, col, d in zip(row_y, LEGEND_COLORS, LEGEND_DASHES):
    p_leg.line([line_x0, line_x1], [yy, yy], line_color=col, line_width=3.5, line_dash=d)
p_leg.text(x=[line_x1 + 2] * len(LEGEND_LABELS), y=row_y, text=LEGEND_LABELS,
           text_font=value(FONT), text_font_size=value("41px"), text_color="black",
           text_baseline="middle", text_align="left")

# heading of the lower-right panel, centred over that panel's frame
sh_center = SH_LEFT + FRAME_W / 2
p_leg.text(x=[sh_center], y=[SH_TITLE_LIFT], text=[TITLES[2]],
           text_font=value(FONT), text_font_size=value(SUB_TITLE_SIZE), text_color="black",
           text_baseline="alphabetic", text_align="center")

layout = column(row(p_glob, p_leg), row(p_nh, p_sh))
open("out.html", "w").write(file_html(layout, INLINE))
